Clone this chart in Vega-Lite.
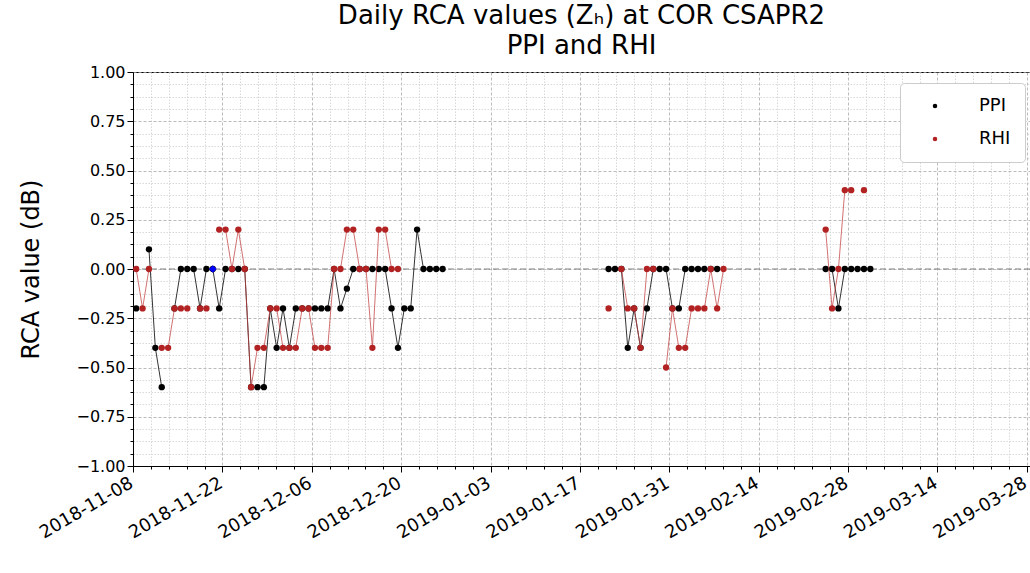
{
  "$schema": "https://vega.github.io/schema/vega-lite/v6.json",
  "autosize": {"type": "none"},
  "padding": {"left": 133, "top": 72, "right": 0, "bottom": 107},
  "width": 897,
  "height": 394,
  "background": "white",
  "config": {
    "font": "DejaVu Sans",
    "view": {"stroke": "black", "strokeWidth": 1},
    "axis": {"domainColor": "black", "tickColor": "black", "labelColor": "black", "titleColor": "black"}
  },
  "title": {
    "text": ["Daily RCA values (Zₕ) at COR CSAPR2", "PPI and RHI"],
    "fontSize": 26,
    "fontWeight": "normal",
    "anchor": "middle",
    "offset": 5,
    "lineHeight": 30,
    "color": "black"
  },
  "data": {
    "values": [
      {"d": "2018-11-08T12:00:00Z", "s": "PPI", "v": -0.2},
      {"d": "2018-11-09T12:00:00Z", "s": "PPI", "v": null},
      {"d": "2018-11-10T12:00:00Z", "s": "PPI", "v": 0.1},
      {"d": "2018-11-11T12:00:00Z", "s": "PPI", "v": -0.4},
      {"d": "2018-11-12T12:00:00Z", "s": "PPI", "v": -0.6},
      {"d": "2018-11-13T12:00:00Z", "s": "PPI", "v": null},
      {"d": "2018-11-14T12:00:00Z", "s": "PPI", "v": -0.2},
      {"d": "2018-11-15T12:00:00Z", "s": "PPI", "v": 0},
      {"d": "2018-11-16T12:00:00Z", "s": "PPI", "v": 0},
      {"d": "2018-11-17T12:00:00Z", "s": "PPI", "v": 0},
      {"d": "2018-11-18T12:00:00Z", "s": "PPI", "v": -0.2},
      {"d": "2018-11-19T12:00:00Z", "s": "PPI", "v": 0},
      {"d": "2018-11-20T12:00:00Z", "s": "PPI", "v": 0},
      {"d": "2018-11-21T12:00:00Z", "s": "PPI", "v": -0.2},
      {"d": "2018-11-22T12:00:00Z", "s": "PPI", "v": 0},
      {"d": "2018-11-23T12:00:00Z", "s": "PPI", "v": 0},
      {"d": "2018-11-24T12:00:00Z", "s": "PPI", "v": 0},
      {"d": "2018-11-25T12:00:00Z", "s": "PPI", "v": 0},
      {"d": "2018-11-26T12:00:00Z", "s": "PPI", "v": -0.6},
      {"d": "2018-11-27T12:00:00Z", "s": "PPI", "v": -0.6},
      {"d": "2018-11-28T12:00:00Z", "s": "PPI", "v": -0.6},
      {"d": "2018-11-29T12:00:00Z", "s": "PPI", "v": -0.2},
      {"d": "2018-11-30T12:00:00Z", "s": "PPI", "v": -0.4},
      {"d": "2018-12-01T12:00:00Z", "s": "PPI", "v": -0.2},
      {"d": "2018-12-02T12:00:00Z", "s": "PPI", "v": -0.4},
      {"d": "2018-12-03T12:00:00Z", "s": "PPI", "v": -0.2},
      {"d": "2018-12-04T12:00:00Z", "s": "PPI", "v": -0.2},
      {"d": "2018-12-05T12:00:00Z", "s": "PPI", "v": -0.2},
      {"d": "2018-12-06T12:00:00Z", "s": "PPI", "v": -0.2},
      {"d": "2018-12-07T12:00:00Z", "s": "PPI", "v": -0.2},
      {"d": "2018-12-08T12:00:00Z", "s": "PPI", "v": -0.2},
      {"d": "2018-12-09T12:00:00Z", "s": "PPI", "v": 0},
      {"d": "2018-12-10T12:00:00Z", "s": "PPI", "v": -0.2},
      {"d": "2018-12-11T12:00:00Z", "s": "PPI", "v": -0.1},
      {"d": "2018-12-12T12:00:00Z", "s": "PPI", "v": 0},
      {"d": "2018-12-13T12:00:00Z", "s": "PPI", "v": 0},
      {"d": "2018-12-14T12:00:00Z", "s": "PPI", "v": 0},
      {"d": "2018-12-15T12:00:00Z", "s": "PPI", "v": 0},
      {"d": "2018-12-16T12:00:00Z", "s": "PPI", "v": 0},
      {"d": "2018-12-17T12:00:00Z", "s": "PPI", "v": 0},
      {"d": "2018-12-18T12:00:00Z", "s": "PPI", "v": -0.2},
      {"d": "2018-12-19T12:00:00Z", "s": "PPI", "v": -0.4},
      {"d": "2018-12-20T12:00:00Z", "s": "PPI", "v": -0.2},
      {"d": "2018-12-21T12:00:00Z", "s": "PPI", "v": -0.2},
      {"d": "2018-12-22T12:00:00Z", "s": "PPI", "v": 0.2},
      {"d": "2018-12-23T12:00:00Z", "s": "PPI", "v": 0},
      {"d": "2018-12-24T12:00:00Z", "s": "PPI", "v": 0},
      {"d": "2018-12-25T12:00:00Z", "s": "PPI", "v": 0},
      {"d": "2018-12-26T12:00:00Z", "s": "PPI", "v": 0},
      {"d": "2018-12-27T12:00:00Z", "s": "PPI", "v": null},
      {"d": "2019-01-21T12:00:00Z", "s": "PPI", "v": 0},
      {"d": "2019-01-22T12:00:00Z", "s": "PPI", "v": 0},
      {"d": "2019-01-23T12:00:00Z", "s": "PPI", "v": 0},
      {"d": "2019-01-24T12:00:00Z", "s": "PPI", "v": -0.4},
      {"d": "2019-01-25T12:00:00Z", "s": "PPI", "v": -0.2},
      {"d": "2019-01-26T12:00:00Z", "s": "PPI", "v": -0.4},
      {"d": "2019-01-27T12:00:00Z", "s": "PPI", "v": -0.2},
      {"d": "2019-01-28T12:00:00Z", "s": "PPI", "v": 0},
      {"d": "2019-01-29T12:00:00Z", "s": "PPI", "v": 0},
      {"d": "2019-01-30T12:00:00Z", "s": "PPI", "v": 0},
      {"d": "2019-01-31T12:00:00Z", "s": "PPI", "v": -0.2},
      {"d": "2019-02-01T12:00:00Z", "s": "PPI", "v": -0.2},
      {"d": "2019-02-02T12:00:00Z", "s": "PPI", "v": 0},
      {"d": "2019-02-03T12:00:00Z", "s": "PPI", "v": 0},
      {"d": "2019-02-04T12:00:00Z", "s": "PPI", "v": 0},
      {"d": "2019-02-05T12:00:00Z", "s": "PPI", "v": 0},
      {"d": "2019-02-06T12:00:00Z", "s": "PPI", "v": 0},
      {"d": "2019-02-07T12:00:00Z", "s": "PPI", "v": 0},
      {"d": "2019-02-08T12:00:00Z", "s": "PPI", "v": null},
      {"d": "2019-02-24T12:00:00Z", "s": "PPI", "v": 0},
      {"d": "2019-02-25T12:00:00Z", "s": "PPI", "v": 0},
      {"d": "2019-02-26T12:00:00Z", "s": "PPI", "v": -0.2},
      {"d": "2019-02-27T12:00:00Z", "s": "PPI", "v": 0},
      {"d": "2019-02-28T12:00:00Z", "s": "PPI", "v": 0},
      {"d": "2019-03-01T12:00:00Z", "s": "PPI", "v": 0},
      {"d": "2019-03-02T12:00:00Z", "s": "PPI", "v": 0},
      {"d": "2019-03-03T12:00:00Z", "s": "PPI", "v": 0},
      {"d": "2018-11-08T12:00:00Z", "s": "RHI", "v": 0},
      {"d": "2018-11-09T12:00:00Z", "s": "RHI", "v": -0.2},
      {"d": "2018-11-10T12:00:00Z", "s": "RHI", "v": 0},
      {"d": "2018-11-11T12:00:00Z", "s": "RHI", "v": null},
      {"d": "2018-11-12T12:00:00Z", "s": "RHI", "v": -0.4},
      {"d": "2018-11-13T12:00:00Z", "s": "RHI", "v": -0.4},
      {"d": "2018-11-14T12:00:00Z", "s": "RHI", "v": -0.2},
      {"d": "2018-11-15T12:00:00Z", "s": "RHI", "v": -0.2},
      {"d": "2018-11-16T12:00:00Z", "s": "RHI", "v": -0.2},
      {"d": "2018-11-17T12:00:00Z", "s": "RHI", "v": null},
      {"d": "2018-11-18T12:00:00Z", "s": "RHI", "v": -0.2},
      {"d": "2018-11-19T12:00:00Z", "s": "RHI", "v": -0.2},
      {"d": "2018-11-20T12:00:00Z", "s": "RHI", "v": null},
      {"d": "2018-11-21T12:00:00Z", "s": "RHI", "v": 0.2},
      {"d": "2018-11-22T12:00:00Z", "s": "RHI", "v": 0.2},
      {"d": "2018-11-23T12:00:00Z", "s": "RHI", "v": 0},
      {"d": "2018-11-24T12:00:00Z", "s": "RHI", "v": 0.2},
      {"d": "2018-11-25T12:00:00Z", "s": "RHI", "v": 0},
      {"d": "2018-11-26T12:00:00Z", "s": "RHI", "v": -0.6},
      {"d": "2018-11-27T12:00:00Z", "s": "RHI", "v": -0.4},
      {"d": "2018-11-28T12:00:00Z", "s": "RHI", "v": -0.4},
      {"d": "2018-11-29T12:00:00Z", "s": "RHI", "v": -0.2},
      {"d": "2018-11-30T12:00:00Z", "s": "RHI", "v": -0.2},
      {"d": "2018-12-01T12:00:00Z", "s": "RHI", "v": -0.4},
      {"d": "2018-12-02T12:00:00Z", "s": "RHI", "v": -0.4},
      {"d": "2018-12-03T12:00:00Z", "s": "RHI", "v": -0.4},
      {"d": "2018-12-04T12:00:00Z", "s": "RHI", "v": -0.2},
      {"d": "2018-12-05T12:00:00Z", "s": "RHI", "v": -0.2},
      {"d": "2018-12-06T12:00:00Z", "s": "RHI", "v": -0.4},
      {"d": "2018-12-07T12:00:00Z", "s": "RHI", "v": -0.4},
      {"d": "2018-12-08T12:00:00Z", "s": "RHI", "v": -0.4},
      {"d": "2018-12-09T12:00:00Z", "s": "RHI", "v": 0},
      {"d": "2018-12-10T12:00:00Z", "s": "RHI", "v": 0},
      {"d": "2018-12-11T12:00:00Z", "s": "RHI", "v": 0.2},
      {"d": "2018-12-12T12:00:00Z", "s": "RHI", "v": 0.2},
      {"d": "2018-12-13T12:00:00Z", "s": "RHI", "v": 0},
      {"d": "2018-12-14T12:00:00Z", "s": "RHI", "v": 0},
      {"d": "2018-12-15T12:00:00Z", "s": "RHI", "v": -0.4},
      {"d": "2018-12-16T12:00:00Z", "s": "RHI", "v": 0.2},
      {"d": "2018-12-17T12:00:00Z", "s": "RHI", "v": 0.2},
      {"d": "2018-12-18T12:00:00Z", "s": "RHI", "v": 0},
      {"d": "2018-12-19T12:00:00Z", "s": "RHI", "v": 0},
      {"d": "2018-12-20T12:00:00Z", "s": "RHI", "v": null},
      {"d": "2019-01-21T12:00:00Z", "s": "RHI", "v": -0.2},
      {"d": "2019-01-22T12:00:00Z", "s": "RHI", "v": null},
      {"d": "2019-01-23T12:00:00Z", "s": "RHI", "v": 0},
      {"d": "2019-01-24T12:00:00Z", "s": "RHI", "v": -0.2},
      {"d": "2019-01-25T12:00:00Z", "s": "RHI", "v": -0.2},
      {"d": "2019-01-26T12:00:00Z", "s": "RHI", "v": -0.4},
      {"d": "2019-01-27T12:00:00Z", "s": "RHI", "v": 0},
      {"d": "2019-01-28T12:00:00Z", "s": "RHI", "v": 0},
      {"d": "2019-01-29T12:00:00Z", "s": "RHI", "v": null},
      {"d": "2019-01-30T12:00:00Z", "s": "RHI", "v": -0.5},
      {"d": "2019-01-31T12:00:00Z", "s": "RHI", "v": -0.2},
      {"d": "2019-02-01T12:00:00Z", "s": "RHI", "v": -0.4},
      {"d": "2019-02-02T12:00:00Z", "s": "RHI", "v": -0.4},
      {"d": "2019-02-03T12:00:00Z", "s": "RHI", "v": -0.2},
      {"d": "2019-02-04T12:00:00Z", "s": "RHI", "v": -0.2},
      {"d": "2019-02-05T12:00:00Z", "s": "RHI", "v": -0.2},
      {"d": "2019-02-06T12:00:00Z", "s": "RHI", "v": 0},
      {"d": "2019-02-07T12:00:00Z", "s": "RHI", "v": -0.2},
      {"d": "2019-02-08T12:00:00Z", "s": "RHI", "v": 0},
      {"d": "2019-02-09T12:00:00Z", "s": "RHI", "v": null},
      {"d": "2019-02-24T12:00:00Z", "s": "RHI", "v": 0.2},
      {"d": "2019-02-25T12:00:00Z", "s": "RHI", "v": -0.2},
      {"d": "2019-02-26T12:00:00Z", "s": "RHI", "v": 0},
      {"d": "2019-02-27T12:00:00Z", "s": "RHI", "v": 0.4},
      {"d": "2019-02-28T12:00:00Z", "s": "RHI", "v": 0.4},
      {"d": "2019-03-01T12:00:00Z", "s": "RHI", "v": null},
      {"d": "2019-03-02T12:00:00Z", "s": "RHI", "v": 0.4}
    ]
  },
  "encoding": {
    "x": {
      "field": "d", "type": "temporal",
      "scale": {"type": "utc", "domain": [1541635200000, 1553775000000]},
      "axis": {
        "title": null,
        "values": [1541635200000, 1541877120000, 1542119040000, 1542360960000, 1542602880000,
                   1542844800000, 1543086720000, 1543328640000, 1543570560000, 1543812480000,
                   1544054400000, 1544296320000, 1544538240000, 1544780160000, 1545022080000,
                   1545264000000, 1545505920000, 1545747840000, 1545989760000, 1546231680000,
                   1546473600000, 1546715520000, 1546957440000, 1547199360000, 1547441280000,
                   1547683200000, 1547925120000, 1548167040000, 1548408960000, 1548650880000,
                   1548892800000, 1549134720000, 1549376640000, 1549618560000, 1549860480000,
                   1550102400000, 1550344320000, 1550586240000, 1550828160000, 1551070080000,
                   1551312000000, 1551553920000, 1551795840000, 1552037760000, 1552279680000,
                   1552521600000, 1552763520000, 1553005440000, 1553247360000, 1553489280000,
                   1553731200000],
        "labelExpr": "(+datum.value - 1541635200000) % 1209600000 === 0 ? utcFormat(datum.value, '%Y-%m-%d') : ''",
        "labelAngle": -30,
        "labelAlign": "right",
        "labelBaseline": "top",
        "labelFontSize": 18,
        "labelOverlap": false,
        "labelFlush": false,
        "labelBound": false,
        "labelPadding": 2,
        "labelOffset": -6,
        "grid": true,
        "tickSize": {"condition": {"test": "(+datum.value - 1541635200000) % 1209600000 === 0", "value": 6}, "value": 3},
        "gridColor": {"condition": {"test": "(+datum.value - 1541635200000) % 1209600000 === 0", "value": "#aaaaaa"}, "value": "#cfcfcf"},
        "gridDash": {"condition": {"test": "(+datum.value - 1541635200000) % 1209600000 === 0", "value": [3, 2]}, "value": [1.5, 1.5]},
        "gridWidth": 0.8
      }
    },
    "y": {
      "field": "v", "type": "quantitative",
      "scale": {"domain": [-1, 1], "nice": false, "zero": false},
      "axis": {
        "title": "RCA value (dB)",
        "titleFontSize": 24,
        "titleFontWeight": "normal",
        "titlePadding": 32,
        "values": [-1, -0.9375, -0.875, -0.8125, -0.75, -0.6875, -0.625, -0.5625, -0.5, -0.4375, -0.375, -0.3125, -0.25, -0.1875, -0.125, -0.0625, 0, 0.0625, 0.125, 0.1875, 0.25, 0.3125, 0.375, 0.4375, 0.5, 0.5625, 0.625, 0.6875, 0.75, 0.8125, 0.875, 0.9375, 1],
        "labelExpr": "abs(datum.value * 4 - round(datum.value * 4)) < 0.000001 ? format(datum.value, '.2f') : ''",
        "labelFontSize": 16,
        "labelOverlap": false,
        "labelFlush": false,
        "labelPadding": 2,
        "grid": true,
        "tickSize": {"condition": {"test": "abs(datum.value * 4 - round(datum.value * 4)) < 0.000001", "value": 6}, "value": 3},
        "gridColor": {"condition": {"test": "abs(datum.value * 4 - round(datum.value * 4)) < 0.000001", "value": "#aaaaaa"}, "value": "#cfcfcf"},
        "gridDash": {"condition": {"test": "abs(datum.value * 4 - round(datum.value * 4)) < 0.000001", "value": [3, 2]}, "value": [1.5, 1.5]},
        "gridWidth": 0.8
      }
    }
  },
  "layer": [
    {
      "data": {"values": [{"v": 0}]},
      "mark": {"type": "rule", "color": "#808080", "strokeDash": [6, 3], "strokeWidth": 1.2},
      "encoding": {"x": null, "y": {"field": "v", "type": "quantitative"}}
    },
    {
      "transform": [{"filter": "datum.s === 'PPI'"}],
      "mark": {"type": "line", "color": "black", "strokeWidth": 0.8}
    },
    {
      "transform": [{"filter": "datum.s === 'PPI'"}],
      "mark": {"type": "circle", "size": 40, "opacity": 1},
      "encoding": {
        "color": {
          "field": "s", "type": "nominal",
          "scale": {"domain": ["PPI", "RHI"], "range": ["black", "#b22222"]},
          "legend": {
            "title": null,
            "orient": "none",
            "legendX": 767,
            "legendY": 11,
            "padding": 14,
            "symbolType": "circle",
            "symbolSize": 20,
            "symbolOffset": 12,
            "labelOffset": 35,
            "labelFontSize": 18,
            "labelColor": "black",
            "rowPadding": 15,
            "strokeColor": "#cccccc",
            "fillColor": "white",
            "cornerRadius": 4
          }
        }
      }
    },
    {
      "transform": [{"filter": "datum.s === 'RHI'"}],
      "mark": {"type": "line", "color": "#c0393b", "strokeWidth": 0.8, "opacity": 0.9}
    },
    {
      "transform": [{"filter": "datum.s === 'RHI'"}],
      "mark": {"type": "circle", "size": 40, "opacity": 1},
      "encoding": {"color": {"field": "s", "type": "nominal"}}
    },
    {
      "data": {"values": [{"d": "2018-11-20T12:00:00Z", "v": 0}]},
      "mark": {"type": "point", "shape": "diamond", "size": 60, "filled": true, "color": "blue", "opacity": 1}
    }
  ]
}
